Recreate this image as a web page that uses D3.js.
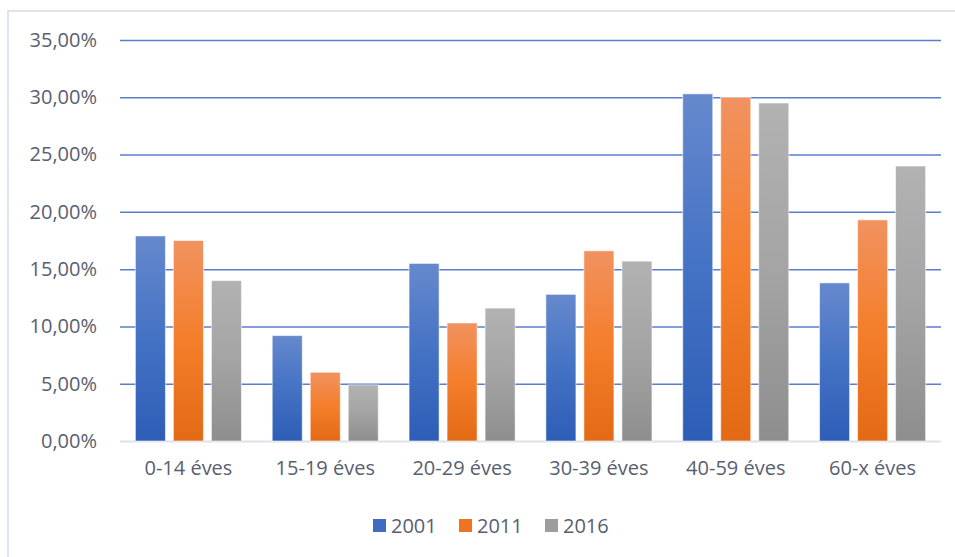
<!DOCTYPE html>
<html>
<head>
<meta charset="utf-8">
<script src="https://cdn.jsdelivr.net/npm/d3@7"></script>
<style>
  html, body { margin: 0; padding: 0; background: #ffffff; }
  svg { display: block; }
  text { font-family: "Open Sans", "Noto Sans", sans-serif; fill: #586070; }
</style>
</head>
<body>
<svg id="chart" width="955" height="557"></svg>
<script>
const categories = ["0-14 éves", "15-19 éves", "20-29 éves", "30-39 éves", "40-59 éves", "60-x éves"];
const seriesNames = ["2001", "2011", "2016"];
const values2001 = [17.9, 9.2, 15.5, 12.8, 30.3, 13.8];
const values2011 = [17.5, 6.0, 10.3, 16.6, 30.0, 19.3];
const values2016 = [14.0, 4.9, 11.6, 15.7, 29.5, 24.0];
const yTicks = [0, 5, 10, 15, 20, 25, 30, 35];

(function () {
const seriesValues = [values2001, values2011, values2016];
const gradStops = [
  ["#6689cd", "#4472c4", "#2d5db6"],
  ["#f19260", "#f47e2b", "#e36a15"],
  ["#b2b2b2", "#a4a4a4", "#8e8e8e"]
];
const legendColors = ["#3f6cc0", "#ef7422", "#9d9d9d"];

const svg = d3.select("#chart");
const plotLeft = 120, plotRight = 941, plotTop = 40, plotBottom = 441;

// frame (only top and left edges visible in the crop)
svg.append("rect")
  .attr("x", 8).attr("y", 11)
  .attr("width", 1000).attr("height", 600)
  .attr("fill", "none").attr("stroke", "#dfe3ea").attr("stroke-width", 2);

const defs = svg.append("defs");
seriesNames.forEach((s, i) => {
  const g = defs.append("linearGradient")
    .attr("id", "grad" + i)
    .attr("x1", 0).attr("y1", 0).attr("x2", 0).attr("y2", 1);
  g.append("stop").attr("offset", "0%").attr("stop-color", gradStops[i][0]);
  g.append("stop").attr("offset", "50%").attr("stop-color", gradStops[i][1]);
  g.append("stop").attr("offset", "100%").attr("stop-color", gradStops[i][2]);
});

const x0 = d3.scaleBand().domain(categories).range([plotLeft, plotRight])
  .paddingInner(0.225).paddingOuter(0.1125);
const x1 = d3.scaleBand().domain(seriesNames).range([0, x0.bandwidth()])
  .paddingInner(0.21).paddingOuter(0);
const y = d3.scaleLinear().domain([0, 35]).range([plotBottom, plotTop]);

const locale = d3.formatLocale({ decimal: ",", thousands: " ", grouping: [3], currency: ["", ""] });
const fmt = locale.format(".2f");

// gridlines
const yAxis = d3.axisLeft(y).tickValues(yTicks).tickSize(-(plotRight - plotLeft))
  .tickFormat(d => fmt(d) + "%").tickPadding(23);
const ga = svg.append("g").attr("transform", `translate(${plotLeft},0)`).call(yAxis);
ga.select(".domain").remove();
ga.selectAll(".tick line")
  .attr("stroke", d => d === 0 ? "#dde2ea" : "#5a7ecc")
  .attr("stroke-width", d => d === 0 ? 2 : 1.5);
ga.selectAll(".tick text")
  .style("font-size", "20px")
  .attr("fill", "#586070")
  .style("font-family", "'Open Sans', 'Noto Sans', sans-serif");

// bars
const groups = svg.append("g").selectAll("g")
  .data(categories).join("g")
  .attr("transform", d => `translate(${x0(d)},0)`);

groups.selectAll("rect")
  .data((c, ci) => seriesNames.map((s, si) => ({ s, si, v: seriesValues[si][ci] })))
  .join("rect")
  .attr("x", d => x1(d.s))
  .attr("y", d => y(d.v))
  .attr("width", x1.bandwidth())
  .attr("height", d => y(0) - y(d.v))
  .attr("fill", d => `url(#grad${d.si})`)
  .attr("stroke", "rgba(255,255,255,0.55)")
  .attr("stroke-width", 1);

// x labels
const xAxis = d3.axisBottom(x0).tickSize(0).tickPadding(20);
const gx = svg.append("g").attr("transform", `translate(0,${plotBottom})`).call(xAxis);
gx.select(".domain").remove();
gx.selectAll(".tick text")
  .style("font-size", "20px")
  .attr("fill", "#586070")
  .style("font-family", "'Open Sans', 'Noto Sans', sans-serif");

// legend
const legendX = [373, 459, 545];
const lg = svg.append("g");
seriesNames.forEach((s, i) => {
  lg.append("rect")
    .attr("x", legendX[i]).attr("y", 519)
    .attr("width", 13).attr("height", 13)
    .attr("fill", legendColors[i]);
  lg.append("text")
    .attr("x", legendX[i] + 18).attr("y", 533)
    .style("font-size", "20px")
    .text(s);
});
})();
</script>
</body>
</html>
